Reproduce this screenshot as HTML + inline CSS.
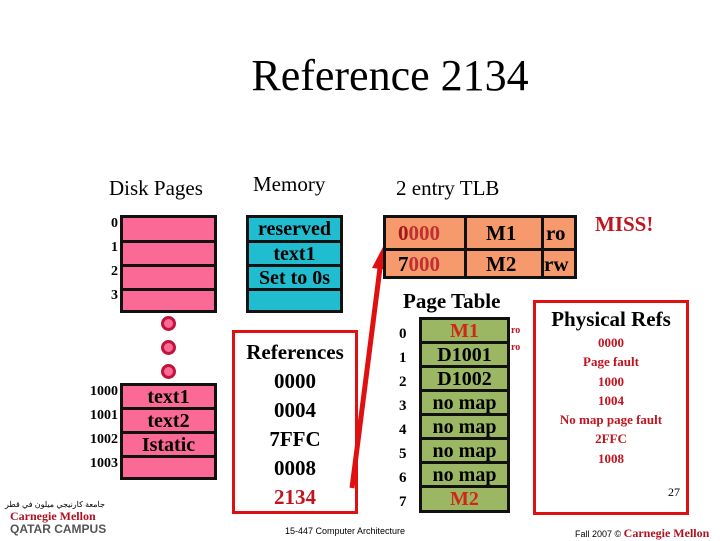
<!DOCTYPE html>
<html><head><meta charset="utf-8"><style>
body{margin:0;width:720px;height:540px;background:#fff;position:relative;overflow:hidden;font-family:"Liberation Serif",serif}
.a{position:absolute}
.box{position:absolute;border:3px solid #111;box-sizing:border-box}
.row{position:absolute;left:0;right:0;border-top:3px solid #111;box-sizing:border-box;text-align:center;font-weight:bold}
.lbl{position:absolute;font-weight:bold;font-size:14px;text-align:right}
</style></head><body>
<div class="a" style="left:0;width:780px;top:50px;text-align:center;font-size:44px">Reference 2134</div>
<div class="a" style="left:109px;top:176px;font-size:21px">Disk Pages</div>
<div class="a" style="left:253px;top:172px;font-size:21px">Memory</div>
<div class="a" style="left:396px;top:176px;font-size:21px">2 entry TLB</div>

<div class="box" style="left:120px;top:215px;width:97px;height:98px;background:#fb6a96">
<div class="row" style="top:22px;height:24px"></div>
<div class="row" style="top:46px;height:24px"></div>
<div class="row" style="top:70px;height:24px"></div>
</div>
<div class="lbl" style="left:70px;width:48px;top:216px">0</div>
<div class="lbl" style="left:70px;width:48px;top:240px">1</div>
<div class="lbl" style="left:70px;width:48px;top:264px">2</div>
<div class="lbl" style="left:70px;width:48px;top:288px">3</div>
<div class="a" style="left:161px;top:316px;width:9px;height:9px;border:3px solid #c0143c;border-radius:50%;background:#fb6a96"></div>
<div class="a" style="left:161px;top:340px;width:9px;height:9px;border:3px solid #c0143c;border-radius:50%;background:#fb6a96"></div>
<div class="a" style="left:161px;top:364px;width:9px;height:9px;border:3px solid #c0143c;border-radius:50%;background:#fb6a96"></div>
<div class="box" style="left:120px;top:383px;width:97px;height:97px;background:#fb6a96;font-size:20px;line-height:22px">
<div class="row" style="top:0;border-top:0;height:24px">text1</div>
<div class="row" style="top:21px;height:24px">text2</div>
<div class="row" style="top:45px;height:24px">Istatic</div>
<div class="row" style="top:69px;height:24px"></div>
</div>
<div class="lbl" style="left:70px;width:48px;top:384px">1000</div>
<div class="lbl" style="left:70px;width:48px;top:408px">1001</div>
<div class="lbl" style="left:70px;width:48px;top:432px">1002</div>
<div class="lbl" style="left:70px;width:48px;top:456px">1003</div>

<div class="box" style="left:246px;top:215px;width:97px;height:98px;background:#20bcd0;font-size:20px;line-height:22px">
<div class="row" style="top:0;border-top:0;height:22px">reserved</div>
<div class="row" style="top:22px;height:24px">text1</div>
<div class="row" style="top:46px;height:24px">Set to 0s</div>
<div class="row" style="top:70px;height:24px"></div>
</div>

<div class="a" style="left:232px;top:330px;width:126px;height:184px;border:3px solid #d11;box-sizing:border-box"></div>
<div class="a" style="left:232px;top:338px;width:126px;text-align:center;font-size:21px;line-height:29px;font-weight:bold">References<br>0000<br>0004<br>7FFC<br>0008<br><span style="color:#c0141e">2134</span></div>

<svg class="a" style="left:0;top:0" width="720" height="540"><line x1="352" y1="488" x2="380" y2="268" stroke="#e01010" stroke-width="5"/><polygon points="385,243 372,268 390,270" fill="#e01010"/></svg>

<div class="box" style="left:383px;top:215px;width:194px;height:64px;background:#f69a6e;font-size:21px;font-weight:bold">
<div class="a" style="left:0;top:0;width:191px;height:30px;border-bottom:3px solid #111"></div>
<div class="a" style="left:78px;top:0;width:3px;height:61px;background:#111"></div>
<div class="a" style="left:155px;top:0;width:3px;height:61px;background:#111"></div>
<div class="a" style="left:12px;top:3px"><span style="color:#a01818">0</span><span style="color:#c03030">000</span></div>
<div class="a" style="left:12px;top:34px"><span>7</span><span style="color:#c03030">000</span></div>
<div class="a" style="left:100px;top:3px">M1</div>
<div class="a" style="left:100px;top:34px">M2</div>
<div class="a" style="left:160px;top:3px">ro</div>
<div class="a" style="left:158px;top:34px">rw</div>
</div>
<div class="a" style="left:595px;top:212px;color:#c0141e;font-size:21px;font-weight:bold">MISS!</div>

<div class="a" style="left:403px;top:289px;font-size:21px;font-weight:bold">Page Table</div>
<div class="box" style="left:419px;top:317px;width:91px;height:196px;background:#9cb764;font-size:20px;line-height:22px">
<div class="row" style="top:0;border-top:0;height:22px;color:#d02818">M1</div>
<div class="row" style="top:21px;height:24px">D1001</div>
<div class="row" style="top:45px;height:24px">D1002</div>
<div class="row" style="top:69px;height:24px">no map</div>
<div class="row" style="top:93px;height:24px">no map</div>
<div class="row" style="top:117px;height:24px">no map</div>
<div class="row" style="top:141px;height:24px">no map</div>
<div class="row" style="top:165px;height:24px;color:#d02818">M2</div>
</div>
<div class="a" style="left:399px;top:322px;font-size:15px;font-weight:bold;line-height:24px">0<br>1<br>2<br>3<br>4<br>5<br>6<br>7</div>
<div class="a" style="left:511px;top:322px;font-size:10px;font-weight:bold;color:#c0141e;line-height:17px">ro<br>ro</div>

<div class="a" style="left:533px;top:300px;width:156px;height:215px;border:3px solid #d11;box-sizing:border-box"></div>
<div class="a" style="left:533px;top:307px;width:156px;text-align:center;font-size:21px;font-weight:bold">Physical Refs</div>
<div class="a" style="left:533px;top:333px;width:156px;text-align:center;font-size:13px;font-weight:bold;color:#c0141e;line-height:19.3px">0000<br>Page fault<br>1000<br>1004<br>No map page fault<br>2FFC<br>1008</div>
<div class="a" style="left:668px;top:485px;font-size:12px">27</div>

<div class="a" style="left:285px;top:526px;font-family:'Liberation Sans',sans-serif;font-size:9px">15-447 Computer Architecture</div>
<div class="a" style="left:575px;top:526px;font-family:'Liberation Sans',sans-serif;font-size:9px">Fall 2007 © <span style="font-family:'Liberation Serif',serif;font-weight:bold;color:#b01020;font-size:12px">Carnegie Mellon</span></div>
<div class="a" style="left:5px;top:500px;font-size:8px;font-family:'Liberation Sans',sans-serif">جامعة كارنيجي ميلون في قطر</div>
<div class="a" style="left:10px;top:509px;font-size:12px;font-weight:bold;color:#b01020">Carnegie Mellon</div>
<div class="a" style="left:10px;top:522px;font-size:12px;font-weight:bold;color:#555;font-family:'Liberation Sans',sans-serif">QATAR CAMPUS</div>
</body></html>
